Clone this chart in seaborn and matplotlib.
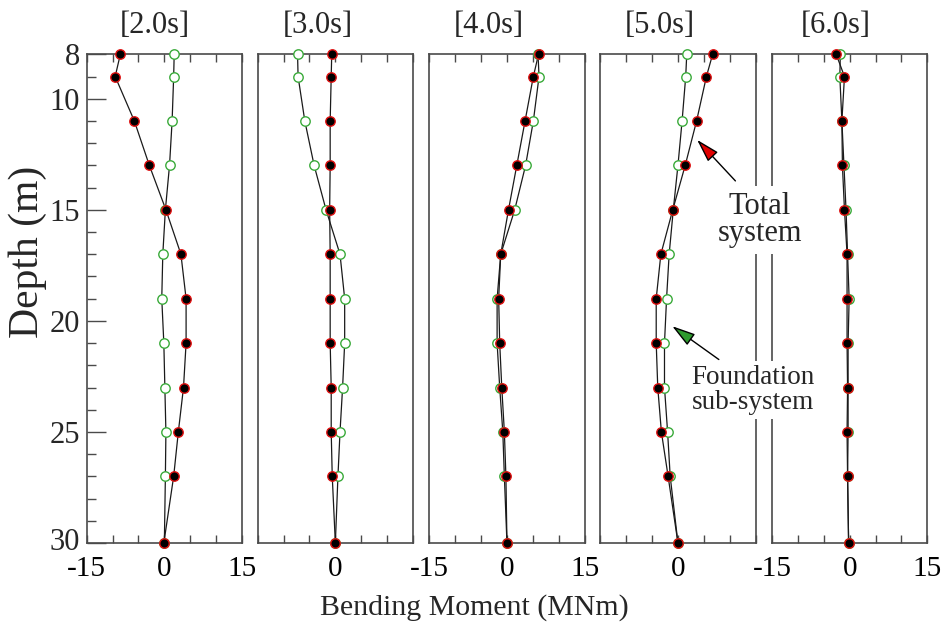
import numpy as np
import pandas as pd
import matplotlib
matplotlib.use("Agg")
import matplotlib.pyplot as plt
from matplotlib.ticker import MultipleLocator
from matplotlib.transforms import ScaledTranslation
import seaborn as sns

# ---- data ----
depths = [8, 9, 11, 13, 15, 17, 19, 21, 23, 25, 27, 30]
times = ["[2.0s]", "[3.0s]", "[4.0s]", "[5.0s]", "[6.0s]"]
total_2s = [-8.5, -9.5, -5.8, -2.9, 0.3, 3.2, 4.2, 4.2, 3.7, 2.7, 1.8, -0.1]
found_2s = [1.9, 1.8, 1.5, 1.0, 0.2, -0.3, -0.5, -0.1, 0.1, 0.3, 0.2, 0.0]
total_3s = [-0.7, -0.8, -1.0, -1.0, -1.1, -1.0, -1.0, -1.0, -0.8, -0.8, -0.6, 0.0]
found_3s = [-7.3, -7.2, -5.9, -4.1, -1.8, 0.9, 1.8, 1.8, 1.4, 0.9, 0.5, 0.0]
total_4s = [6.1, 5.1, 3.5, 1.9, 0.3, -1.2, -1.6, -1.4, -1.0, -0.5, -0.2, 0.0]
found_4s = [6.0, 6.2, 5.1, 3.6, 1.5, -1.2, -1.9, -1.9, -1.4, -0.8, -0.5, 0.0]
total_5s = [6.7, 5.5, 3.6, 1.4, -1.0, -3.3, -4.2, -4.2, -3.9, -3.2, -1.9, 0.0]
found_5s = [1.7, 1.5, 0.8, 0.0, -0.9, -1.7, -2.2, -2.6, -2.6, -2.0, -1.5, 0.0]
total_6s = [-2.6, -1.0, -1.5, -1.4, -1.0, -0.5, -0.5, -0.5, -0.4, -0.5, -0.4, -0.2]
found_6s = [-1.8, -1.9, -1.5, -1.1, -0.7, -0.4, -0.1, -0.3, -0.3, -0.3, -0.4, -0.2]
x_ticks = [-15, -10, -5, 0, 5, 10, 15]
x_labels_full = ["-15", "", "", "0", "", "", "15"]
x_labels_zero = ["", "", "", "0", "", "", ""]
y_ticks = [8, 10, 15, 20, 25, 30]

totals = [total_2s, total_3s, total_4s, total_5s, total_6s]
founds = [found_2s, found_3s, found_4s, found_5s, found_6s]

sns.set_theme(style="white")
plt.rcParams["font.family"] = ["Liberation Serif", "DejaVu Serif"]

W, H = 945, 632
fig = plt.figure(figsize=(W / 100, H / 100), dpi=100)

lefts = [86.7, 257.7, 429.3, 600.3, 772.0]
pw = 155.3
top_px, bot_px = 54.3, 543.0
title_x = [0.44, 0.39, 0.38, 0.38, 0.41]
spine_col = "#4a4a4a"
green = "#3aaa3a"

axes = []
for i in range(5):
    ax = fig.add_axes([lefts[i] / W, 1 - bot_px / H, pw / W, (bot_px - top_px) / H])
    axes.append(ax)
    df = pd.DataFrame({
        "depth": depths * 2,
        "moment": founds[i] + totals[i],
        "system": ["Foundation"] * len(depths) + ["Total"] * len(depths),
    })
    sns.lineplot(data=df, x="moment", y="depth", hue="system",
                 palette={"Foundation": "#1a1a1a", "Total": "#1a1a1a"},
                 orient="y", estimator=None, sort=True, legend=False,
                 linewidth=0.9, ax=ax)
    sns.scatterplot(x=founds[i], y=depths, color="white", edgecolor=green,
                    s=46, linewidth=1.0, ax=ax, clip_on=False, zorder=4)
    sns.scatterplot(x=totals[i], y=depths, color="black", edgecolor="#e01010",
                    s=46, linewidth=1.0, ax=ax, clip_on=False, zorder=5)
    ax.set_xlim(-15, 15)
    ax.set_ylim(30, 8)
    ax.set_xlabel("")
    ax.set_ylabel("")
    ax.grid(False)
    for sp in ax.spines.values():
        sp.set_color(spine_col)
        sp.set_linewidth(1.2)
    ax.set_xticks(x_ticks)
    ax.set_xticklabels(x_labels_full if i % 2 == 0 else x_labels_zero)
    ax.tick_params(axis="x", direction="in", top=True, bottom=True, length=6,
                   width=1, color=spine_col, labelsize=21, pad=9, labelcolor="black")
    if i == 0:
        ax.set_yticks(y_ticks)
        ax.yaxis.set_minor_locator(MultipleLocator(1))
        ax.tick_params(axis="y", which="major", direction="in", left=True, right=False,
                       length=14, width=1, color=spine_col, labelsize=22, pad=5)
        ax.tick_params(axis="y", which="minor", direction="in", left=True, right=False,
                       length=6.5, width=1, color=spine_col)
        for lab in ax.get_yticklabels():
            if lab.get_text() == "30":
                lab.set_transform(lab.get_transform() +
                                  ScaledTranslation(0, 4 / 100, fig.dpi_scale_trans))
    else:
        ax.set_yticks([])
    ax.set_title(times[i], x=title_x[i], pad=15, fontsize=22)

ax4 = axes[3]
ax4.annotate("", xy=(3.7, 11.85), xytext=(11.1, 13.7),
             arrowprops=dict(arrowstyle="-|>,head_length=1.2,head_width=0.35",
                             fc="#e00000", ec="black", lw=1.0, mutation_scale=12,
                             shrinkA=0, shrinkB=0),
             annotation_clip=False, zorder=6)
ax4.annotate("", xy=(-1.1, 20.24), xytext=(7.9, 21.74),
             arrowprops=dict(arrowstyle="-|>,head_length=1.2,head_width=0.35",
                             fc="#2e9a2e", ec="black", lw=1.0, mutation_scale=12,
                             shrinkA=0, shrinkB=0),
             annotation_clip=False, zorder=6)

fig.text(760 / W, 1 - 220 / H, "Total\nsystem", ha="center", va="center",
         fontsize=22, linespacing=0.95,
         bbox=dict(facecolor="white", edgecolor="none", pad=4))
fig.text(753 / W, 1 - 390 / H, "Foundation\nsub-system", ha="center", va="center",
         fontsize=19.5, linespacing=1.0,
         bbox=dict(facecolor="white", edgecolor="none", pad=3))

fig.text(28 / W, 1 - 252 / H, "Depth (m)", rotation=90, ha="center", va="center",
         fontsize=30)
fig.text(474 / W, 1 - 608 / H, "Bending Moment (MNm)", ha="center", va="center",
         fontsize=21.5)

fig.savefig("out.png", dpi=100)
